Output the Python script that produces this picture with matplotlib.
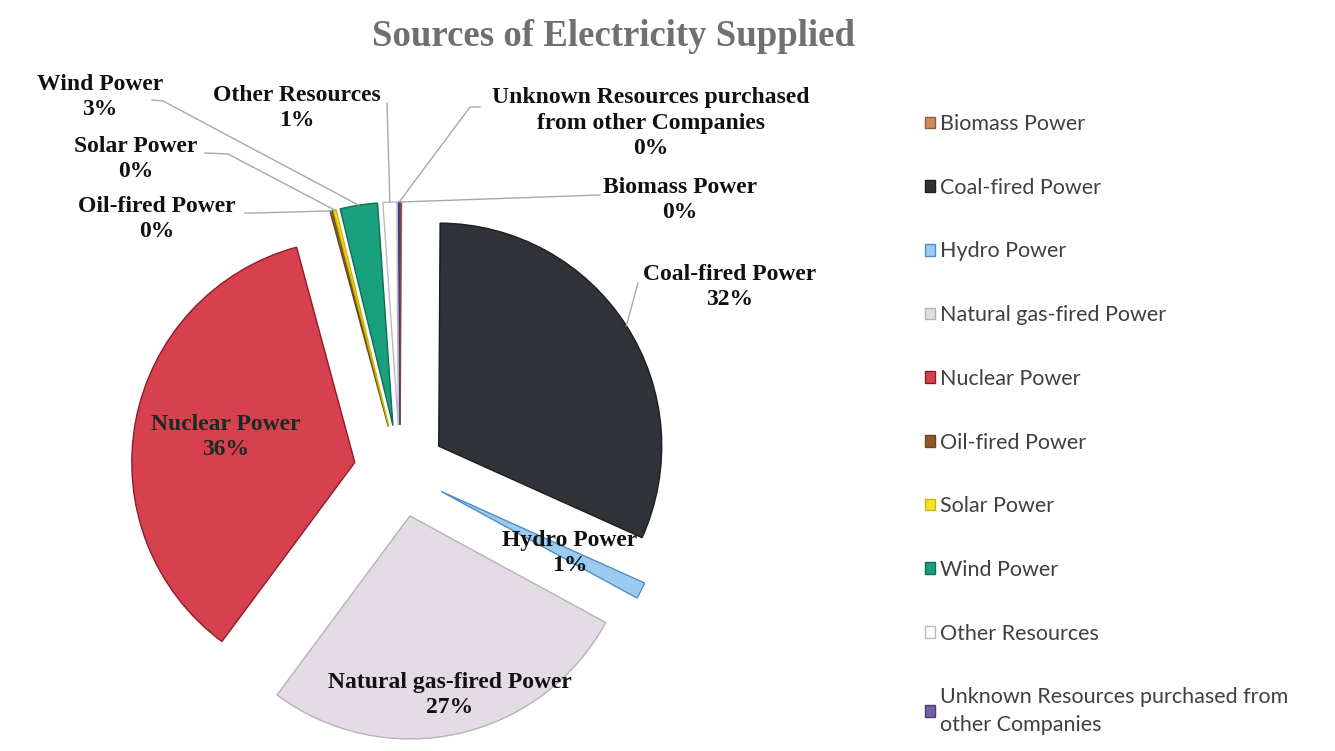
import matplotlib
matplotlib.use('Agg')
import matplotlib.pyplot as plt
import numpy as np

# * data (percent of supply)
sources = ['Biomass Power', 'Coal-fired Power', 'Hydro Power',
           'Natural gas-fired Power', 'Nuclear Power', 'Oil-fired Power',
           'Solar Power', 'Wind Power', 'Other Resources',
           'Unknown Resources purchased from other Companies']
shares = [0.1, 31.6, 1.2, 27.2, 35.6, 0.2, 0.2, 2.7, 1.0, 0.1]
legend_labels = ['Biomass Power', 'Coal-fired Power', 'Hydro Power',
                 'Natural gas-fired Power', 'Nuclear Power', 'Oil-fired Power',
                 'Solar Power', 'Wind Power', 'Other Resources',
                 'Unknown Resources purchased from\nother Companies']
data_labels = ['Biomass Power', 'Coal-fired Power', 'Hydro Power',
               'Natural gas-fired Power', 'Nuclear Power', 'Oil-fired Power',
               'Solar Power', 'Wind Power', 'Other Resources',
               'Unknown Resources purchased\nfrom other Companies']

# * styles
face_colors = ['#D08A60', '#2F3337', '#9CCBEF', '#E4DCE4', '#D7414F',
               '#8C5A2E', '#F2E22C', '#19A07C', '#FFFFFF', '#7262A6']
edge_colors = ['#9A5A35', '#1B1D20', '#4F8FC8', '#B9B0B9', '#8E1B28',
               '#6B4520', '#C9B800', '#0F6E55', '#C0B8C0', '#4B3C78']

W, H = 1335, 751
center_px = (400, 471)
radius_px = 223
explode_px = 46

# label centres in pixels (from top-left) and leader line start points
label_pos = [(680, 200), (730, 287), (570, 553), (450, 695), (226, 437),
             (157, 219), (136, 159), (100, 97), (297, 108), (651, 123)]
leader_pts = [[(600, 195)], [(638, 283)], None, None, None,
              [(245, 213), (255, 213)], [(205, 153), (228, 154)],
              [(152, 100), (163, 101)], [(387, 103)], [(480, 107), (470, 107)]]

serif = 'Liberation Serif'
label_size = 17


def to_data(x, y):
    return x, H - y


fig = plt.figure(figsize=(W / 100, H / 100), dpi=100)
ax = fig.add_axes([0, 0, 1, 1])

wedges, _ = ax.pie(
    shares,
    center=to_data(*center_px),
    radius=radius_px,
    explode=[explode_px] * len(shares),
    startangle=90,
    counterclock=False,
    colors=face_colors,
    wedgeprops={'linewidth': 1.0},
    normalize=True)
for w, ec in zip(wedges, edge_colors):
    w.set_edgecolor(ec)

ax.set_xlim(0, W)
ax.set_ylim(0, H)
ax.set_aspect('equal')
ax.axis('off')

total = sum(shares)
for i, w in enumerate(wedges):
    pct = shares[i] / total * 100
    txt = '%s\n%.0f%%' % (data_labels[i], pct)
    col = '#1a2a22' if sources[i] == 'Nuclear Power' else '#111111'
    ax.text(*to_data(*label_pos[i]), txt, ha='center', va='center',
            family=serif, weight='bold', fontsize=label_size, color=col,
            linespacing=1.3, zorder=5)
    if leader_pts[i] is not None:
        mid = np.deg2rad((w.theta1 + w.theta2) / 2)
        tx = w.center[0] + w.r * np.cos(mid)
        ty = w.center[1] + w.r * np.sin(mid)
        pts = [to_data(*p) for p in leader_pts[i]] + [(tx, ty)]
        xs, ys = zip(*pts)
        ax.plot(xs, ys, color='#A8A8A8', linewidth=1.0, zorder=4)

fig.text(614 / W, 1 - 36 / H, 'Sources of Electricity Supplied',
         ha='center', va='center', family=serif, weight='bold',
         fontsize=26.5, color='#707070')

leg = fig.legend(wedges, legend_labels, loc='upper left',
                 bbox_to_anchor=(925 / W, 1 - 114 / H),
                 frameon=False, borderpad=0, borderaxespad=0,
                 prop={'family': 'Lato', 'size': 15.5},
                 labelcolor='#404040',
                 handlelength=0.45, handleheight=0.45, handletextpad=0.25,
                 labelspacing=2.03)
for t in leg.get_texts():
    t.set_linespacing(1.45)

fig.savefig('out.png', dpi=100)
